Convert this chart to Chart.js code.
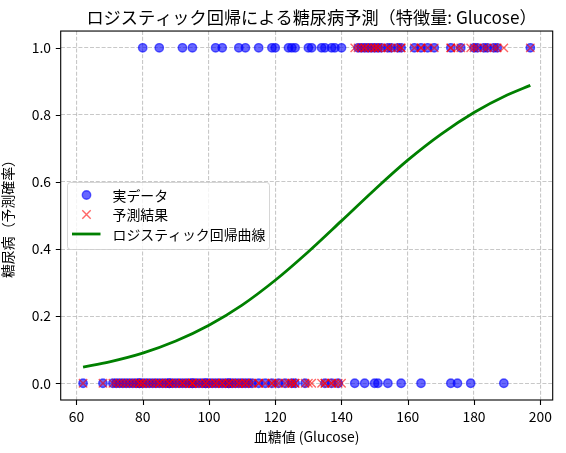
<!DOCTYPE html>
<html>
<head>
<meta charset="utf-8">
<script src="https://cdn.jsdelivr.net/npm/chart.js@4.4.1/dist/chart.umd.min.js"></script>
<style>
  html, body { margin: 0; padding: 0; background: #ffffff; }
  #wrap { width: 566px; height: 453px; }
</style>
</head>
<body>
<div id="wrap"><canvas id="c" width="566" height="453"></canvas></div>
<script>
// ---- data ----
const titleText = 'ロジスティック回帰による糖尿病予測（特徴量: Glucose）';
const xAxisLabel = '血糖値 (Glucose)';
const yAxisLabel = '糖尿病（予測確率）';
const legendLabels = ['実データ', '予測結果', 'ロジスティック回帰曲線'];

const xTicks = [60, 80, 100, 120, 140, 160, 180, 200];
const yTicks = [0.0, 0.2, 0.4, 0.6, 0.8, 1.0];

// actual outcome = 1 (glucose values)
const actualPositiveGlucose = [80, 85, 92, 95, 102, 104, 109, 111, 115, 119, 120, 124, 125, 126, 130, 131, 134, 135, 137, 138, 140,
  145, 146, 147, 148, 149, 150, 151, 152, 154, 155, 157, 158, 162, 164, 166, 168, 173, 176, 180, 181, 183, 184, 186, 187, 197];
// actual outcome = 0 (glucose values)
const actualNegativeGlucose = [62, 68, 71, 72, 73, 74, 75, 76, 77, 78, 79, 79, 80, 81, 82, 83, 84, 85, 86, 87, 88, 88, 89, 90, 91,
  92, 93, 94, 95, 95, 96, 97, 98, 99, 99, 100, 101, 102, 103, 104, 105, 106, 106, 107, 108, 109, 110, 111, 112, 113, 115, 117,
  119, 121, 123, 125, 126, 129, 135, 137, 139, 144, 147, 150, 151, 154, 158, 164, 173, 175, 179, 189];
// predicted = 0 (glucose values)
const predictedNegativeGlucose = [62, 68, 71, 72, 73, 74, 75, 76, 77, 78, 79, 79, 80, 80, 81, 82, 83, 84, 85, 85, 86, 87, 88, 88,
  89, 90, 91, 92, 92, 93, 94, 95, 95, 95, 96, 97, 98, 99, 99, 100, 101, 102, 102, 103, 104, 104, 105, 106, 106, 107, 108, 109,
  109, 110, 111, 111, 112, 113, 115, 115, 117, 119, 119, 120, 121, 123, 124, 125, 125, 126, 126, 129, 130, 131, 134, 135, 135,
  137, 137, 138, 139, 140];
// predicted = 1 (glucose values)
const predictedPositiveGlucose = [144, 145, 146, 147, 147, 148, 149, 150, 150, 151, 151, 152, 154, 154, 155, 157, 158, 158, 162,
  164, 164, 166, 168, 173, 173, 175, 176, 179, 180, 181, 183, 184, 186, 187, 189, 197];

// logistic regression curve
const curveGlucose = [62, 70, 80, 90, 100, 110, 120, 130, 140, 150, 160, 170, 180, 190, 197];
const curveProbability = [0.048, 0.064, 0.090, 0.126, 0.173, 0.233, 0.307, 0.392, 0.484, 0.577, 0.665, 0.742, 0.807, 0.859, 0.888];

// ---- styling ----
const FONT = "'Noto Sans CJK JP', 'Noto Sans', sans-serif";
const BLUE = 'rgba(0,0,255,0.6)';
const RED = 'rgba(255,0,0,0.6)';
const GREEN = '#008000';
const GRID = 'rgba(176,176,176,0.7)';

const actualPoints = actualPositiveGlucose.map(g => ({x: g, y: 1}))
  .concat(actualNegativeGlucose.map(g => ({x: g, y: 0})));
const predictedPoints = predictedNegativeGlucose.map(g => ({x: g, y: 0}))
  .concat(predictedPositiveGlucose.map(g => ({x: g, y: 1})));
const curvePoints = curveGlucose.map((g, i) => ({x: g, y: curveProbability[i]}));

const framePlugin = {
  id: 'frameTicksLegend',
  afterLayout(chart) {
    // centre the title where the reference has it
    const t = chart.titleBlock;
    if (t) { const w = t.right - t.left; t.left = 311.5 - w / 2; t.right = 311.5 + w / 2; }
  },
  afterDraw(chart) {
    const ctx = chart.ctx;
    const a = chart.chartArea;
    const xs = chart.scales.x, ys = chart.scales.y;
    ctx.save();
    // tick marks
    ctx.strokeStyle = '#000';
    ctx.lineWidth = 1.1;
    ctx.beginPath();
    xTicks.forEach(v => {
      const px = Math.round(xs.getPixelForValue(v)) + 0.5;
      ctx.moveTo(px, a.bottom); ctx.lineTo(px, a.bottom + 4.9);
    });
    yTicks.forEach(v => {
      const py = Math.round(ys.getPixelForValue(v)) + 0.5;
      ctx.moveTo(a.left - 4.9, py); ctx.lineTo(a.left, py);
    });
    ctx.stroke();
    // frame
    ctx.strokeRect(a.left, a.top, a.right - a.left, a.bottom - a.top);

    // legend
    const bx = 67.5, by = 182.5, bw = 202, bh = 67, r = 3;
    ctx.beginPath();
    ctx.moveTo(bx + r, by);
    ctx.lineTo(bx + bw - r, by); ctx.quadraticCurveTo(bx + bw, by, bx + bw, by + r);
    ctx.lineTo(bx + bw, by + bh - r); ctx.quadraticCurveTo(bx + bw, by + bh, bx + bw - r, by + bh);
    ctx.lineTo(bx + r, by + bh); ctx.quadraticCurveTo(bx, by + bh, bx, by + bh - r);
    ctx.lineTo(bx, by + r); ctx.quadraticCurveTo(bx, by, bx + r, by);
    ctx.closePath();
    ctx.fillStyle = 'rgba(255,255,255,0.8)';
    ctx.fill();
    ctx.strokeStyle = 'rgba(204,204,204,0.8)';
    ctx.lineWidth = 1;
    ctx.stroke();

    const rows = [195, 214.5, 234];
    const hx = 86.5;
    // blue circle
    ctx.beginPath();
    ctx.arc(hx, rows[0], 4.2, 0, Math.PI * 2);
    ctx.fillStyle = BLUE; ctx.fill();
    ctx.strokeStyle = BLUE; ctx.lineWidth = 1.4; ctx.stroke();
    // red x
    ctx.beginPath();
    ctx.moveTo(hx - 4.2, rows[1] - 4.2); ctx.lineTo(hx + 4.2, rows[1] + 4.2);
    ctx.moveTo(hx - 4.2, rows[1] + 4.2); ctx.lineTo(hx + 4.2, rows[1] - 4.2);
    ctx.strokeStyle = RED; ctx.lineWidth = 1.4; ctx.stroke();
    // green line
    ctx.beginPath();
    ctx.moveTo(72, rows[2]); ctx.lineTo(100.5, rows[2]);
    ctx.strokeStyle = GREEN; ctx.lineWidth = 2.8; ctx.stroke();

    ctx.fillStyle = '#000';
    ctx.font = '13.9px ' + FONT;
    ctx.textAlign = 'left';
    ctx.textBaseline = 'middle';
    legendLabels.forEach((t, i) => ctx.fillText(t, 112.5, rows[i] + 0.5));
    ctx.restore();
  }
};

Chart.defaults.font.family = FONT;
Chart.defaults.color = '#000';

new Chart(document.getElementById('c'), {
  type: 'scatter',
  data: {
    datasets: [
      {
        label: legendLabels[2],
        data: curvePoints,
        showLine: true,
        borderColor: GREEN,
        borderWidth: 2.8,
        pointRadius: 0,
        fill: false,
        cubicInterpolationMode: 'monotone',
        order: 1
      },
      {
        label: legendLabels[1],
        data: predictedPoints,
        pointStyle: 'crossRot',
        pointRadius: 5.9,
        borderColor: RED,
        backgroundColor: RED,
        borderWidth: 1.4,
        order: 2
      },
      {
        label: legendLabels[0],
        data: actualPoints,
        pointStyle: 'circle',
        pointRadius: 4.2,
        backgroundColor: BLUE,
        borderColor: BLUE,
        borderWidth: 1.4,
        order: 3
      }
    ]
  },
  options: {
    responsive: false,
    animation: false,
    devicePixelRatio: 1,
    layout: { padding: { left: 0, right: 13.3, top: 0, bottom: 0 } },
    plugins: {
      legend: { display: false },
      tooltip: { enabled: false },
      title: {
        display: true,
        text: titleText,
        color: '#000',
        font: { size: 17.2, weight: 'normal', family: FONT, lineHeight: 1.2 },
        padding: { top: 6.7, bottom: 3.7 }
      }
    },
    scales: {
      x: {
        type: 'linear',
        min: 55.25,
        max: 203.75,
        afterBuildTicks: s => { s.ticks = xTicks.map(v => ({ value: v })); },
        afterFit: s => { s.height = 53; },
        ticks: {
          autoSkip: false, maxRotation: 0, minRotation: 0,
          padding: 8,
          font: { size: 13.9, family: FONT },
          color: '#000',
          callback: v => String(v)
        },
        grid: { color: GRID, lineWidth: 1.1, drawTicks: false },
        border: { display: false, dash: [4, 1.8] },
        title: {
          display: true, text: xAxisLabel, color: '#000',
          font: { size: 13.9, family: FONT, lineHeight: 1.2 },
          padding: { top: 0, bottom: 7.7 }
        }
      },
      y: {
        type: 'linear',
        min: -0.05,
        max: 1.05,
        afterBuildTicks: s => { s.ticks = yTicks.map(v => ({ value: v })); },
        afterFit: s => { s.width = 60.7; },
        ticks: {
          autoSkip: false,
          padding: 9.7,
          font: { size: 13.9, family: FONT },
          color: '#000',
          callback: v => Number(v).toFixed(1)
        },
        grid: { color: GRID, lineWidth: 1.1, drawTicks: false },
        border: { display: false, dash: [4, 1.8] },
        title: {
          display: true, text: yAxisLabel, color: '#000',
          font: { size: 13.9, family: FONT, lineHeight: 1.0 },
          padding: { top: 0.5, bottom: 0 }
        }
      }
    }
  },
  plugins: [framePlugin]
});
</script>
</body>
</html>
